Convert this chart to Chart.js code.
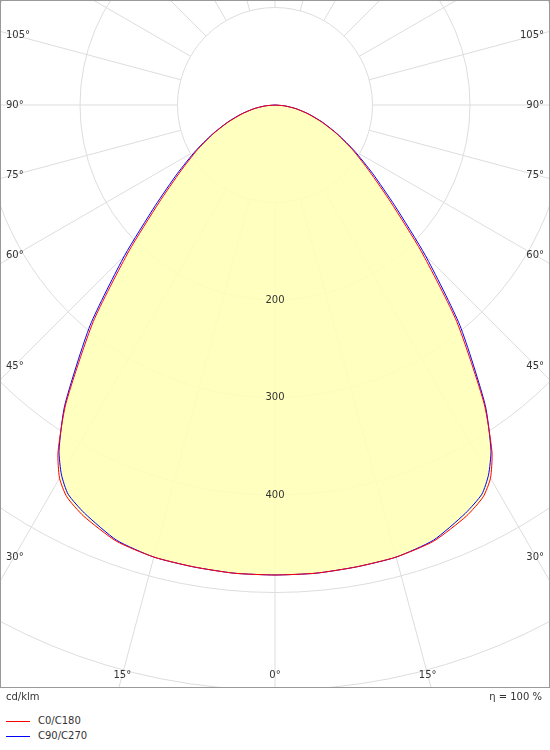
<!DOCTYPE html>
<html><head><meta charset="utf-8">
<script src="https://cdn.jsdelivr.net/npm/chart.js@4/dist/chart.umd.min.js"></script>
<style>
body{margin:0;background:#fff;font-family:"DejaVu Sans",sans-serif;font-size:10px;color:#333}
#wrap{position:absolute;left:0;top:0;width:550px;height:688px}
#frame{position:absolute;left:0;top:0;width:548px;height:686px;border:1px solid #999;pointer-events:none}
.t{position:absolute;font-size:10px;color:#333}
</style></head><body>
<div id="wrap"><canvas id="c" width="550" height="688"></canvas><div id="frame"></div></div>
<div class="t" style="left:6px;top:691px">cd/klm</div>
<div class="t" style="right:8px;top:691px">η = 100 %</div>
<div class="t" style="left:6px;top:715px"><span style="display:inline-block;width:24px;border-top:1px solid #f00;vertical-align:middle;margin-right:8px"></span>C0/C180</div>
<div class="t" style="left:6px;top:730px"><span style="display:inline-block;width:24px;border-top:1px solid #00f;vertical-align:middle;margin-right:8px"></span>C90/C270</div>
<script>
const angles=[0,5,10,15,20,25,28,30,32,35,40,45,50,55,60,65,70,75,80,85,90];
const c0=[482,482,481,480,476,465,455,442,420,374,290,212,155,118,92,70,51,35,22,10,0];
const c90=[482,482,481,480,475,462,452,438,418,376,295,218,160,122,94,71,52,36,22,10,0];
const ringValues=[100,200,300,400,500,600,700];
const ringLabels=["200","300","400"];
const sideAngles=[30,45,60,75,90,105];
const bottomAngles=[0,15];

function toPts(vals){
  const pts=[];
  for(let i=angles.length-1;i>=0;i--){const a=-angles[i]*Math.PI/180;pts.push({x:vals[i]*Math.sin(a),y:-vals[i]*Math.cos(a)});}
  for(let i=1;i<angles.length;i++){const a=angles[i]*Math.PI/180;pts.push({x:vals[i]*Math.sin(a),y:-vals[i]*Math.cos(a)});}
  return pts;
}
const grid={id:'grid',
 beforeDatasetsDraw(ch){
  const ctx=ch.ctx,xs=ch.scales.x,ys=ch.scales.y;
  const cx=xs.getPixelForValue(0),cy=ys.getPixelForValue(0);
  const k=xs.getPixelForValue(100)-cx;
  ctx.save();
  ctx.beginPath();ctx.rect(0,0,550,687);ctx.clip();
  ctx.strokeStyle='#ddd';ctx.lineWidth=1;
  for(let a=0;a<360;a+=15){const r=a*Math.PI/180;ctx.beginPath();
    ctx.moveTo(cx+k*Math.sin(r),cy+k*Math.cos(r));ctx.lineTo(cx+900*Math.sin(r),cy+900*Math.cos(r));ctx.stroke();}
  ringValues.forEach(v=>{ctx.beginPath();ctx.arc(cx,cy,v/100*k,0,2*Math.PI);ctx.stroke();});
  const m=ch.getDatasetMeta(0).data;
  ctx.beginPath();m.forEach((p,i)=>i?ctx.lineTo(p.x,p.y):ctx.moveTo(p.x,p.y));ctx.closePath();
  ctx.fillStyle='rgba(255,255,185,0.9)';ctx.fill();
  ctx.restore();
 },
 afterDatasetsDraw(ch){
  const ctx=ch.ctx,xs=ch.scales.x,ys=ch.scales.y;
  const cx=xs.getPixelForValue(0),cy=ys.getPixelForValue(0);
  const k=xs.getPixelForValue(100)-cx;
  ctx.save();ctx.font='10px "DejaVu Sans"';ctx.fillStyle='#333';ctx.textBaseline='middle';
  ctx.textAlign='center';
  ringLabels.forEach(l=>ctx.fillText(l,cx,cy+(+l)/100*k));
  sideAngles.forEach(a=>{const y=cy+(cx-14)/Math.tan(a*Math.PI/180);
    ctx.textAlign='left';ctx.fillText(a+'°',6,y);ctx.textAlign='right';ctx.fillText(a+'°',544,y);});
  bottomAngles.forEach(a=>{const yb=675;const dx=(yb-cy)*Math.tan(a*Math.PI/180);
    ctx.textAlign='center';ctx.fillText(a+'°',cx-dx,yb);if(a)ctx.fillText(a+'°',cx+dx,yb);});
  ctx.restore();
 }};
new Chart(document.getElementById('c'),{type:'scatter',
 data:{datasets:[
  {data:toPts(c0),showLine:true,borderColor:'#f00',borderWidth:1,pointRadius:0,tension:0.2},
  {data:toPts(c90),showLine:true,borderColor:'#00f',borderWidth:1,pointRadius:0,tension:0.2}]},
 options:{responsive:false,animation:false,layout:{padding:0},
  plugins:{legend:{display:false},tooltip:{enabled:false}},
  scales:{x:{display:false,min:-282.05,max:282.05},y:{display:false,min:-597.9,max:107.7}}},
 plugins:[grid]});
</script></body></html>
